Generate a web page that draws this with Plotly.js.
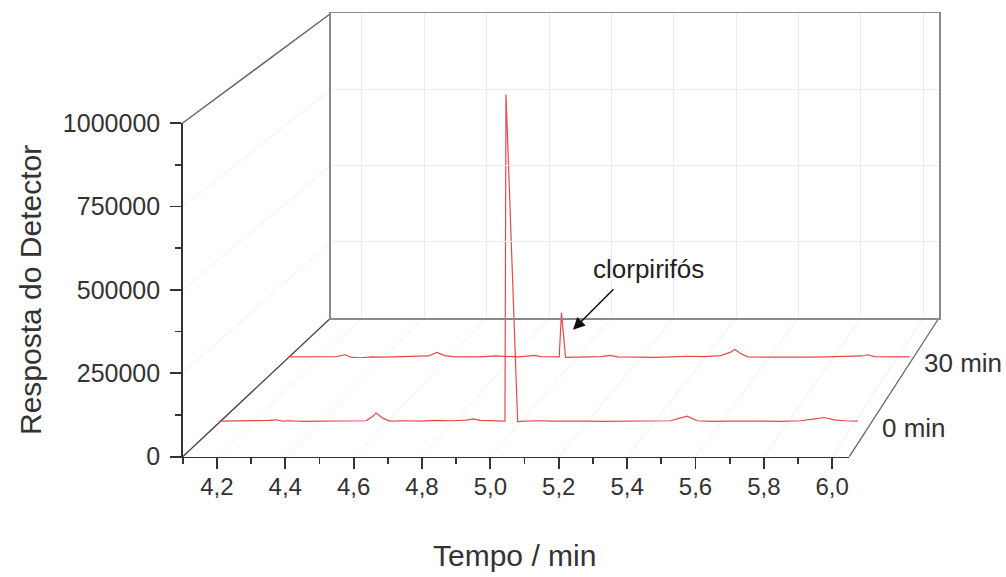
<!DOCTYPE html>
<html>
<head>
<meta charset="utf-8">
<script src="https://cdn.plot.ly/plotly-3.0.1.min.js"></script>
<style>html,body{margin:0;padding:0;background:#fff;}#chart{width:1006px;height:577px;}</style>
</head>
<body>
<div id="chart"></div>
<script>
// ---- data ----
const seriesNames = ["0 min", "30 min"];
const time0 = [4.10,4.15,4.20,4.25,4.27,4.29,4.31,4.35,4.40,4.45,4.50,4.54,4.56,4.57,4.59,4.61,4.65,4.70,4.75,4.80,4.84,4.86,4.88,4.92,4.955,4.958,4.993,5.00,5.05,5.10,5.15,5.20,5.25,5.30,5.35,5.40,5.45,5.48,5.50,5.53,5.57,5.62,5.68,5.72,5.78,5.84,5.88,5.91,5.94,5.97,6.01];
const resp0 = [5000,6000,5000,7000,9000,5000,6000,4000,5000,6000,5000,6000,20000,30000,14000,5000,6000,5000,7000,6000,8000,12000,7000,6000,5000,1005000,3000,4000,6000,5000,6000,5000,4000,5000,4000,5000,6000,15000,20000,6000,4000,5000,6000,5000,4000,6000,12000,16000,9000,6000,5000];
const time30 = [4.10,4.15,4.20,4.25,4.28,4.30,4.33,4.36,4.40,4.45,4.50,4.54,4.565,4.59,4.62,4.66,4.70,4.75,4.78,4.82,4.87,4.89,4.947,4.954,4.967,4.99,5.03,5.08,5.105,5.13,5.20,5.25,5.30,5.35,5.40,5.45,5.48,5.495,5.51,5.535,5.58,5.65,5.72,5.78,5.85,5.89,5.91,5.93,5.98,6.04];
const resp30 = [5000,6000,5000,6000,12000,3000,2000,5000,4000,5000,6000,8000,20000,9000,5000,4000,5000,8000,6000,5000,10000,6000,5000,153000,3000,4000,5000,6000,10000,5000,4000,3000,5000,7000,6000,9000,20000,30000,18000,5000,4000,3000,4000,5000,6000,8000,12000,6000,5000,5000];
const xTickVals = [4.2,4.4,4.6,4.8,5.0,5.2,5.4,5.6,5.8,6.0];
const xTickText = ["4,2","4,4","4,6","4,8","5,0","5,2","5,4","5,6","5,8","6,0"];
const xMinorVals = [4.1,4.3,4.5,4.7,4.9,5.1,5.3,5.5,5.7,5.9];
const yTickVals = [0,250000,500000,750000,1000000];
const yTickText = ["0","250000","500000","750000","1000000"];
const yMinorVals = [125000,375000,625000,875000];
const annoText = "clorpirifós";
const xTitle = "Tempo / min";
const yTitle = "Resposta do Detector";

// ---- pseudo-3D geometry (pixels) ----
const PW = 1006, PH = 577;
const X0 = 182.7, W = 666.6, Y0 = 456.7, H = 333.7, DX = 148, DY = 138.7, K = 0.0875;
const XR = [4.1, 6.05], YMAX = 1000000;
const depth = [0.245, 0.709];
const TRACE_YMAX = 1200000;

function sx(t, f){ const s = 1 - K*f; return X0 + DX*f + (t - XR[0])/(XR[1]-XR[0])*W*s; }
function sy(v, f){ const s = 1 - K*f; return Y0 - DY*f - v/YMAX*H*s; }
function P(t, v, f){ return [sx(t,f)/PW, 1 - sy(v,f)/PH]; }
function dom(f, ymax){
  const s = 1 - K*f;
  const left = X0 + DX*f, right = left + W*s;
  const bottom = Y0 - DY*f, top = bottom - H*s*ymax/YMAX;
  return {x:[left/PW, right/PW], y:[1 - bottom/PH, 1 - top/PH]};
}

const lineColor = '#e6484c';
const fontFam = '"Liberation Sans", Arial, sans-serif';
const textCol = '#333333';

const d0 = dom(depth[0], TRACE_YMAX), d1 = dom(depth[1], TRACE_YMAX), dF = dom(0, YMAX), dB = dom(1, YMAX);

const traces = [
  // empty traces only to register the front axes and the back wall as subplots
  {x: [], y: [], type:'scatter', mode:'lines', xaxis:'x', yaxis:'y', hoverinfo:'skip'},
  {x: [], y: [], type:'scatter', mode:'lines', xaxis:'x4', yaxis:'y4', hoverinfo:'skip'},
  {x: time0, y: resp0, type:'scatter', mode:'lines', name: seriesNames[0], xaxis:'x2', yaxis:'y2', line:{color: lineColor, width:1.2}},
  {x: time30, y: resp30, type:'scatter', mode:'lines', name: seriesNames[1], xaxis:'x3', yaxis:'y3', line:{color: lineColor, width:1.2}}
];

const hidden = (dm, anchor, range) => ({domain: dm, anchor: anchor, range: range, autorange:false, visible:false, fixedrange:true});

const shapes = [];
function seg(a, b, color, width){
  shapes.push({type:'line', xref:'paper', yref:'paper', x0:a[0], y0:a[1], x1:b[0], y1:b[1], line:{color:color, width:width}, layer:'below'});
}
// faint floor and side-wall grid lines
xTickVals.forEach(t => seg(P(t,0,0), P(t,0,1), '#f0f0f0', 1));
yTickVals.slice(1,4).forEach(v => seg(P(XR[0],v,0), P(XR[0],v,1), '#f0f0f0', 1));
// box diagonals
seg(P(XR[0],YMAX,0), P(XR[0],YMAX,1), '#666666', 1.5);
seg(P(XR[0],0,0), P(XR[0],0,1), '#444444', 1.3);
seg(P(XR[1],0,0), P(XR[1],0,1), '#666666', 1.3);

const annotations = [
  {xref:'paper', yref:'paper', x: 514/PW, y: 1 - 555/PH, xanchor:'center', yanchor:'middle', text: xTitle, showarrow:false, font:{family:fontFam, size:30, color:textCol}},
  {xref:'paper', yref:'paper', x: 30/PW, y: 1 - 290/PH, xanchor:'center', yanchor:'middle', text: yTitle, textangle:-90, showarrow:false, font:{family:fontFam, size:30, color:textCol}},
  {xref:'x3', yref:'y3', x: 5.225, y: 300000, xanchor:'center', yanchor:'middle', text: annoText, showarrow:false, font:{family:fontFam, size:26, color:'#222'}},
  {xref:'x3', yref:'y3', x: 4.99, y: 96000, ax: 42, ay: -42, text:'', showarrow:true, arrowhead:2, arrowsize:1.6, arrowwidth:1.5, arrowcolor:'#111'}
];
depth.forEach((f, i) => {
  const p = P(XR[1], 0, f);
  annotations.push({xref:'paper', yref:'paper', x:p[0], y:p[1], xanchor:'left', yanchor:'middle', xshift:9, yshift:-5, text: seriesNames[i], showarrow:false, font:{family:fontFam, size:26, color:textCol}});
});

const layout = {
  width: PW, height: PH,
  margin: {l:0, r:0, t:0, b:0},
  paper_bgcolor:'#ffffff', plot_bgcolor:'rgba(0,0,0,0)',
  showlegend:false, hovermode:false,
  font:{family:fontFam, size:24, color:textCol},
  xaxis: {domain: dF.x, anchor:'y', range: XR, autorange:false, showline:true, linecolor:'#333', linewidth:1.5,
          tickmode:'array', tickvals:xTickVals, ticktext:xTickText, ticks:'outside', ticklen:11, tickwidth:1.8, tickcolor:'#333',
          minor:{tickmode:'array', tickvals:xMinorVals, ticks:'outside', ticklen:6, tickwidth:1.8, tickcolor:'#333', showgrid:false},
          showgrid:false, zeroline:false, tickfont:{family:fontFam, size:24, color:textCol}, ticklabelstandoff:-3, fixedrange:true},
  yaxis: {domain: dF.y, anchor:'x', range:[0, YMAX], autorange:false, showline:true, linecolor:'#333', linewidth:1.5,
          tickmode:'array', tickvals:yTickVals, ticktext:yTickText, ticks:'outside', ticklen:11, tickwidth:1.8, tickcolor:'#333',
          minor:{tickmode:'array', tickvals:yMinorVals, ticks:'outside', ticklen:6, tickwidth:1.8, tickcolor:'#333', showgrid:false},
          showgrid:false, zeroline:false, tickfont:{family:fontFam, size:25, color:textCol}, ticklabelstandoff:5, fixedrange:true},
  xaxis2: hidden(d0.x, 'y2', XR),
  yaxis2: hidden(d0.y, 'x2', [0, TRACE_YMAX]),
  xaxis3: hidden(d1.x, 'y3', XR),
  yaxis3: hidden(d1.y, 'x3', [0, TRACE_YMAX]),
  xaxis4: {domain: dB.x, anchor:'y4', range: XR, autorange:false, showline:true, mirror:true, linecolor:'#8a8a8a', linewidth:1.8,
           tickmode:'array', tickvals:xTickVals, showticklabels:false, ticks:'', showgrid:true, gridcolor:'#ececec', gridwidth:1, zeroline:false, fixedrange:true},
  yaxis4: {domain: dB.y, anchor:'x4', range:[0, YMAX], autorange:false, showline:true, mirror:true, linecolor:'#8a8a8a', linewidth:1.8,
           tickmode:'array', tickvals:yTickVals, showticklabels:false, ticks:'', showgrid:true, gridcolor:'#ececec', gridwidth:1, zeroline:false, fixedrange:true},
  shapes: shapes,
  annotations: annotations
};

Plotly.newPlot('chart', traces, layout, {staticPlot:true, displayModeBar:false});
</script>
</body>
</html>
